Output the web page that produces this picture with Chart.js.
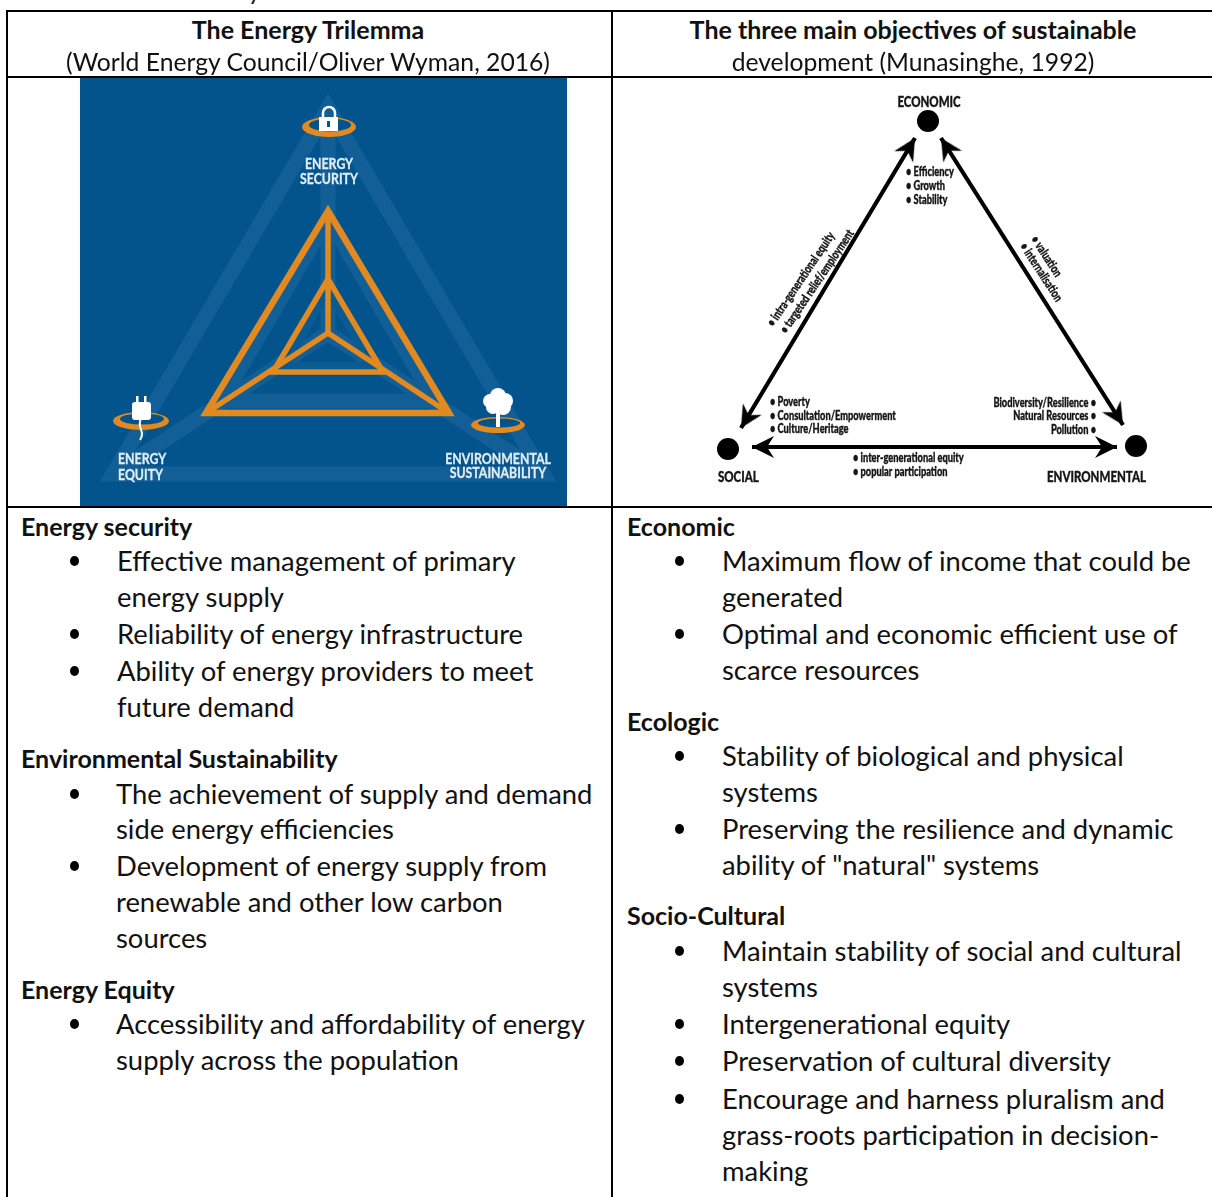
<!DOCTYPE html>
<html lang="en">
<head>
<meta charset="utf-8">
<title>Energy Trilemma and Sustainable Development</title>
<script src="https://cdn.jsdelivr.net/npm/chart.js"></script>
<style>
    html, body { margin: 0; padding: 0; background: #fff; }
    body { width: 1212px; height: 1197px; position: relative; overflow: hidden; color: #111; font-family: Lato, "Open Sans", sans-serif; font-size: 27.4px; }
    canvas { position: absolute; display: block; filter: blur(0.45px); }
    #trilemmaChart { left: 80px; top: 78px; }
    #objectivesChart { left: 613px; top: 78px; }
    .rule { position: absolute; background: #000; }
    .line { position: absolute; line-height: 36px; white-space: nowrap; margin-top: -18px; }
    .head { font-weight: 700; font-size: 25px; }
    .sub { font-size: 24.7px; }
    .cen { transform: translateX(-50%); }
    .dot { position: absolute; width: 9px; height: 10px; border-radius: 50%; background: #000; margin: -5px 0 0 -5px; }
</style>
</head>
<body>

<canvas id="trilemmaChart" width="487" height="428"></canvas>
<canvas id="objectivesChart" width="599" height="428"></canvas>

<!-- table rules -->
<div class="rule" style="left:6px;top:10px;width:1206px;height:2px"></div>
<div class="rule" style="left:6px;top:76px;width:1206px;height:2px"></div>
<div class="rule" style="left:6px;top:506px;width:1206px;height:2px"></div>
<div class="rule" style="left:6px;top:10px;width:2px;height:1187px"></div>
<div class="rule" style="left:611px;top:10px;width:2px;height:1187px"></div>

<!-- clipped caption line above the table -->
<div class="line sub" style="left:248px;top:-9px">y</div>

<!-- headers -->
<div class="line head cen" style="left:308px;top:29px">The Energy Trilemma</div>
<div class="line sub cen" style="left:308px;top:62px">(World Energy Council/Oliver Wyman, 2016)</div>
<div class="line head cen" style="left:913px;top:29px">The three main objectives of sustainable</div>
<div class="line sub cen" style="left:913px;top:62px">development (Munasinghe, 1992)</div>

<!-- left column -->
<div class="line head" style="left:21px;top:526px">Energy security</div>
<i class="dot" style="left:75px;top:561px"></i><div class="line" style="left:117px;top:561px">Effective management of primary</div>
<div class="line" style="left:117px;top:597px">energy supply</div>
<i class="dot" style="left:75px;top:634px"></i><div class="line" style="left:117px;top:634px">Reliability of energy infrastructure</div>
<i class="dot" style="left:75px;top:671px"></i><div class="line" style="left:117px;top:671px">Ability of energy providers to meet</div>
<div class="line" style="left:117px;top:707px">future demand</div>
<div class="line head" style="left:21px;top:758px">Environmental Sustainability</div>
<i class="dot" style="left:75px;top:794px"></i><div class="line" style="left:116px;top:794px">The achievement of supply and demand</div>
<div class="line" style="left:116px;top:829px">side energy efficiencies</div>
<i class="dot" style="left:75px;top:866px"></i><div class="line" style="left:116px;top:866px">Development of energy supply from</div>
<div class="line" style="left:116px;top:902px">renewable and other low carbon</div>
<div class="line" style="left:116px;top:938px">sources</div>
<div class="line head" style="left:21px;top:989px">Energy Equity</div>
<i class="dot" style="left:75px;top:1024px"></i><div class="line" style="left:116px;top:1024px">Accessibility and affordability of energy</div>
<div class="line" style="left:116px;top:1060px">supply across the population</div>

<!-- right column -->
<div class="line head" style="left:627px;top:526px">Economic</div>
<i class="dot" style="left:680px;top:561px"></i><div class="line" style="left:722px;top:561px">Maximum flow of income that could be</div>
<div class="line" style="left:722px;top:597px">generated</div>
<i class="dot" style="left:680px;top:634px"></i><div class="line" style="left:722px;top:634px">Optimal and economic efficient use of</div>
<div class="line" style="left:722px;top:670px">scarce resources</div>
<div class="line head" style="left:627px;top:721px">Ecologic</div>
<i class="dot" style="left:680px;top:756px"></i><div class="line" style="left:722px;top:756px">Stability of biological and physical</div>
<div class="line" style="left:722px;top:792px">systems</div>
<i class="dot" style="left:680px;top:829px"></i><div class="line" style="left:722px;top:829px">Preserving the resilience and dynamic</div>
<div class="line" style="left:722px;top:865px">ability of "natural" systems</div>
<div class="line head" style="left:627px;top:915px">Socio-Cultural</div>
<i class="dot" style="left:680px;top:951px"></i><div class="line" style="left:722px;top:951px">Maintain stability of social and cultural</div>
<div class="line" style="left:722px;top:987px">systems</div>
<i class="dot" style="left:680px;top:1024px"></i><div class="line" style="left:722px;top:1024px">Intergenerational equity</div>
<i class="dot" style="left:680px;top:1061px"></i><div class="line" style="left:722px;top:1061px">Preservation of cultural diversity</div>
<i class="dot" style="left:680px;top:1099px"></i><div class="line" style="left:722px;top:1099px">Encourage and harness pluralism and</div>
<div class="line" style="left:722px;top:1135px">grass-roots participation in decision-</div>
<div class="line" style="left:722px;top:1171px">making</div>

<script>
// Trilemma triangles (first point repeated twice so the corner joins)
const outerX = [328, 449, 206, 328, 449];
const outerY = [211, 413, 413, 211, 413];
const innerX = [328, 383, 273, 328, 383];
const innerY = [279, 372, 372, 279, 372];
const hubX = [328];
const hubY = [333];

const bandOuterX = [328, 543, 113, 328, 543];
const bandOuterY = [108, 474, 474, 108, 474];
const bandMidX = [328, 435, 221, 328, 435];
const bandMidY = [218, 401, 401, 218, 401];
const bandInnerX = [328, 372, 284, 328, 372];
const bandInnerY = [290, 366, 366, 290, 366];

const iconX = [329, 141, 498];
const iconY = [120, 419, 413];

const trilemmaText = ['ENERGY', 'SECURITY', 'ENERGY', 'EQUITY', 'ENVIRONMENTAL', 'SUSTAINABILITY'];
const trilemmaTextX = [329, 329, 118, 118, 498, 498];
const trilemmaTextY = [164, 179, 459, 475, 459, 473];
const trilemmaTextAlign = ['center', 'center', 'left', 'left', 'center', 'center'];

// Munasinghe triangle
const nodeX = [928, 728, 1136];
const nodeY = [121, 449, 446];

const arrowLeftX = [915, 741];
const arrowLeftY = [138, 428];
const arrowRightX = [941, 1123];
const arrowRightY = [138, 425];
const arrowBaseX = [752, 1117];
const arrowBaseY = [447, 447];
const arrowTipAngle = [31, 211, -32, 148, -90, 90];

const objectivesText = [
    'ECONOMIC', 'SOCIAL', 'ENVIRONMENTAL',
    '• Efficiency', '• Growth', '• Stability',
    '• Poverty', '• Consultation/Empowerment', '• Culture/Heritage',
    'Biodiversity/Resilience •', 'Natural Resources •', 'Pollution •',
    '• inter-generational equity', '• popular participation',
    '• intra-generational equity', '• targeted relief/employment',
    '• valuation', '• internalisation'
];
const objectivesTextX = [929, 718, 1146, 906, 906, 906, 770, 770, 770, 1096, 1096, 1096, 853, 853, 770, 783, 1034, 1023];
const objectivesTextY = [102, 477, 477, 172, 186, 200, 402, 416, 429, 403, 416, 430, 458, 472, 325, 332, 237, 244];
const objectivesTextAlign = ['center', 'left', 'right', 'left', 'left', 'left', 'left', 'left', 'left', 'right', 'right', 'right', 'left', 'left', 'left', 'left', 'left', 'left'];
const objectivesTextAngle = [0, 0, 0, 0, 0, 0, 0, 0, 0, 0, 0, 0, 0, 0, -56, -56, 57, 57];

const BLUE = '#03548d';
const PALE = '#125f97';
const ORANGE = '#e28a20';

function pts(xs, ys) {
    return xs.map((x, i) => ({ x: x, y: ys[i] }));
}

function path(xs, ys, color, width) {
    return {
        data: pts(xs, ys),
        showLine: true,
        borderColor: color,
        borderWidth: width,
        borderJoinStyle: 'miter',
        pointRadius: 0,
        tension: 0
    };
}

function spokes(xs, ys, color, width) {
    return [0, 1, 2].map(i => path([hubX[0], xs[i]], [hubY[0], ys[i]], color, width));
}

function iconCanvas(w, h, draw) {
    const c = document.createElement('canvas');
    c.width = w;
    c.height = h;
    draw(c.getContext('2d'), w / 2, h / 2);
    return c;
}

function ring(ctx, cx, cy, rx, ry) {
    ctx.fillStyle = ORANGE;
    ctx.beginPath();
    ctx.ellipse(cx, cy, rx, ry, 0, 0, Math.PI * 2);
    ctx.fill();
    ctx.fillStyle = BLUE;
    ctx.beginPath();
    ctx.ellipse(cx + 1, cy - 2, rx - 6, ry - 3.5, 0, 0, Math.PI * 2);
    ctx.fill();
    ctx.fillStyle = '#fff';
    ctx.strokeStyle = '#fff';
}

const lockIcon = iconCanvas(60, 50, (ctx, cx, cy) => {
    ring(ctx, cx, cy + 7, 27, 10);
    ctx.lineWidth = 2.5;
    ctx.beginPath();
    ctx.arc(cx, cy - 7, 6, Math.PI, 0);
    ctx.lineTo(cx + 6, cy);
    ctx.moveTo(cx - 6, cy);
    ctx.lineTo(cx - 6, cy - 7);
    ctx.stroke();
    ctx.fillRect(cx - 10, cy - 3, 19, 14);
    ctx.fillStyle = BLUE;
    ctx.fillRect(cx - 2, cy + 1, 3, 6);
});

const plugIcon = iconCanvas(64, 56, (ctx, cx, cy) => {
    ring(ctx, cx, cy + 2, 28, 9);
    ctx.fillRect(cx - 5, cy - 23, 2.5, 8);
    ctx.fillRect(cx + 3, cy - 23, 2.5, 8);
    ctx.beginPath();
    ctx.roundRect(cx - 9, cy - 17, 19, 18, 3);
    ctx.fill();
    ctx.lineWidth = 2;
    ctx.beginPath();
    ctx.moveTo(cx, cy);
    ctx.bezierCurveTo(cx - 5, cy + 8, cx + 5, cy + 12, cx - 1, cy + 21);
    ctx.stroke();
});

const treeIcon = iconCanvas(64, 56, (ctx, cx, cy) => {
    ring(ctx, cx, cy + 12, 27, 8);
    ctx.fillRect(cx - 2, cy - 2, 4, 16);
    [[-8, -12, 7], [7, -12, 8], [0, -17, 8], [-5, -6, 7], [5, -6, 8]].forEach(b => {
        ctx.beginPath();
        ctx.arc(cx + b[0], cy + b[1], b[2], 0, Math.PI * 2);
        ctx.fill();
    });
});

// swept back arrow head with its tip on the canvas centre, pointing up
const arrowHead = iconCanvas(50, 50, (ctx, cx, cy) => {
    ctx.fillStyle = '#000';
    ctx.beginPath();
    ctx.moveTo(cx, cy);
    ctx.lineTo(cx + 11, cy + 22);
    ctx.lineTo(cx, cy + 15);
    ctx.lineTo(cx - 11, cy + 22);
    ctx.closePath();
    ctx.fill();
});

// draws the diagram labels through the chart's scales, squeezed like the condensed originals
const labelPlugin = {
    id: 'diagramLabels',
    afterDatasetsDraw(chart, args, o) {
        const ctx = chart.ctx;
        o.text.forEach((t, i) => {
            ctx.save();
            ctx.translate(chart.scales.x.getPixelForValue(o.x[i]), chart.scales.y.getPixelForValue(o.y[i]));
            ctx.rotate((o.angle ? o.angle[i] : 0) * Math.PI / 180);
            ctx.scale(o.squeeze, 1);
            ctx.fillStyle = o.color;
            ctx.strokeStyle = o.color;
            ctx.lineWidth = o.heavy;
            ctx.textAlign = o.align[i];
            ctx.textBaseline = 'middle';
            ctx.font = t === t.toUpperCase() ? o.capsFont : o.font;
            ctx.fillText(t, 0, 0);
            ctx.strokeText(t, 0, 0);
            ctx.restore();
        });
    }
};

function baseOptions(xMin, xMax, yMin, yMax, labels) {
    return {
        responsive: false,
        animation: false,
        events: [],
        layout: { padding: 0, autoPadding: false },
        plugins: { legend: { display: false }, tooltip: { enabled: false }, diagramLabels: labels },
        scales: {
            x: { type: 'linear', display: false, min: xMin, max: xMax },
            y: { type: 'linear', display: false, min: yMin, max: yMax, reverse: true }
        }
    };
}

// Chart.js paints the first dataset last, so the lists run from top layer to bottom layer
new Chart(document.getElementById('trilemmaChart'), {
    type: 'scatter',
    plugins: [labelPlugin, {
        id: 'blueBack',
        beforeDraw(chart) {
            chart.ctx.fillStyle = BLUE;
            chart.ctx.fillRect(0, 0, chart.width, chart.height);
        }
    }],
    data: {
        datasets: [
            {
                data: pts(iconX, iconY),
                pointStyle: [lockIcon, plugIcon, treeIcon],
                pointRadius: 20
            },
            path(innerX, innerY, ORANGE, 5.5),
            path(outerX, outerY, ORANGE, 6.5),
            ...spokes(outerX, outerY, ORANGE, 5.5),
            path(bandInnerX, bandInnerY, '#0b5b93', 8),
            path(bandMidX, bandMidY, PALE, 15),
            path(bandOuterX, bandOuterY, PALE, 15),
            ...spokes(bandOuterX, bandOuterY, PALE, 15)
        ]
    },
    options: baseOptions(80, 567, 78, 506, {
        text: trilemmaText, x: trilemmaTextX, y: trilemmaTextY, align: trilemmaTextAlign,
        color: '#e3edf4',
        squeeze: 0.77,
        heavy: 0.3,
        capsFont: 'bold 16px Lato, sans-serif'
    })
});

new Chart(document.getElementById('objectivesChart'), {
    type: 'scatter',
    plugins: [labelPlugin],
    data: {
        datasets: [
            {
                data: pts(nodeX, nodeY),
                pointStyle: 'circle',
                pointRadius: 11,
                pointBackgroundColor: '#000',
                pointBorderWidth: 0
            },
            {
                data: pts(arrowLeftX.concat(arrowRightX, arrowBaseX), arrowLeftY.concat(arrowRightY, arrowBaseY)),
                pointStyle: arrowHead,
                pointRadius: 20,
                rotation: arrowTipAngle
            },
            path(arrowLeftX, arrowLeftY, '#000', 4.2),
            path(arrowRightX, arrowRightY, '#000', 4.2),
            path(arrowBaseX, arrowBaseY, '#000', 4.2)
        ]
    },
    options: baseOptions(613, 1212, 78, 506, {
        text: objectivesText, x: objectivesTextX, y: objectivesTextY, align: objectivesTextAlign, angle: objectivesTextAngle,
        color: '#151515',
        squeeze: 0.74,
        heavy: 0.35,
        font: '900 12.5px Lato, sans-serif',
        capsFont: '900 15.5px Lato, sans-serif'
    })
});
</script>
</body>
</html>
